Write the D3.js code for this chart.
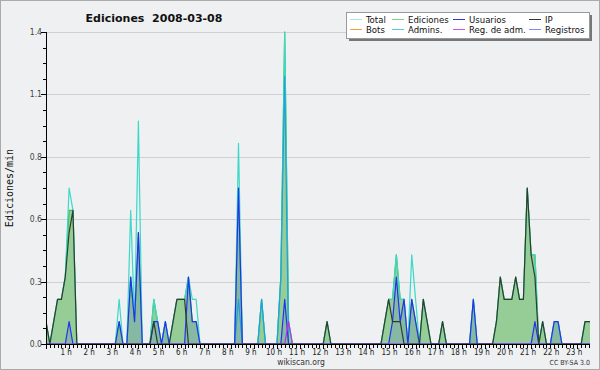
<!DOCTYPE html>
<html>
<head>
<meta charset="utf-8">
<script src="https://cdn.jsdelivr.net/npm/d3@7"></script>
<style>
  body { margin: 0; background: #eef0f2; }
  text { font-family: "DejaVu Sans Condensed", "DejaVu Sans", sans-serif; }
</style>
</head>
<body>
<div id="chart"></div>
<script>
// ediciones por minuto, intervalos de 10 minutos (6 por hora)
const total = [
  .1,0,.1,.2,.2,.3,  .7,.6,0,0,0,0,  0,0,0,0,0,0,  0,.2,0,0,.6,.1,
  1.0,0,0,0,.2,.1,   0,.1,0,.1,.2,.2, .2,.3,.2,.2,0,0, 0,0,0,0,0,0,
  0,0,.9,0,0,0,      0,0,.2,0,0,0,   0,.3,1.4,.1,0,0, 0,0,0,0,0,0,
  0,.1,0,0,0,0,      0,0,0,0,0,0,    0,0,0,0,.1,.2,  .2,.4,.2,.2,0,.4,
  .2,0,.2,.1,0,0,    0,.1,0,0,0,0,   0,0,0,.2,0,0,   0,0,0,.1,.3,.2,
  .2,.2,.3,.2,.2,.7, .4,.4,0,.1,0,0, .1,.1,0,0,0,0,  0,0,.1,.1,.1,.1
];
const ediciones = [
  .1,0,.1,.2,.2,.3,  .6,.6,0,0,0,0,  0,0,0,0,0,0,  0,.1,0,0,.3,.1,
  .5,0,0,0,.2,.1,    0,.1,0,.1,.2,.2, .2,.3,.1,.1,0,0, 0,0,0,0,0,0,
  0,0,.7,0,0,0,      0,0,.2,0,0,0,   0,.3,1.4,.1,0,0, 0,0,0,0,0,0,
  0,.1,0,0,0,0,      0,0,0,0,0,0,    0,0,0,0,.1,.2,  .2,.4,.2,.2,0,.2,
  .1,0,.2,.1,0,0,    0,.1,0,0,0,0,   0,0,0,.2,0,0,   0,0,0,.1,.3,.2,
  .2,.2,.3,.2,.2,.7, .4,.4,0,.1,0,0, .1,.1,0,0,0,0,  0,0,.1,.1,.1,.1
];
const usuarios = [
  0,0,0,0,0,0,       .1,0,0,0,0,0,   0,0,0,0,0,0,    0,.1,0,0,.3,.1,
  .5,0,0,0,.1,.1,    0,.1,0,0,0,0,   0,.3,.1,.1,0,0, 0,0,0,0,0,0,
  0,0,.7,0,0,0,      0,0,0,0,0,0,    0,0,.2,0,0,0,   0,0,0,0,0,0,
  0,0,0,0,0,0,       0,0,0,0,0,0,    0,0,0,0,0,0,    .1,.3,.1,.2,0,.2,
  .1,0,0,0,0,0,      0,0,0,0,0,0,    0,0,0,.2,0,0,   0,0,0,0,0,0,
  0,0,0,0,0,0,       0,.1,0,0,0,0,   .1,.1,0,0,0,0,  0,0,0,0,0,0
];
const ip = [
  .1,0,.1,.2,.2,.3,  .5,.6,0,0,0,0,  0,0,0,0,0,0,    0,0,0,0,0,0,
  0,0,0,0,.1,0,      0,0,0,.1,.2,.2, .2,0,0,0,0,0,   0,0,0,0,0,0,
  0,0,0,0,0,0,       0,0,0,0,0,0,    0,0,0,0,0,0,    0,0,0,0,0,0,
  0,.1,0,0,0,0,      0,0,0,0,0,0,    0,0,0,0,.1,.2,  .1,.1,.1,0,0,0,
  0,0,.2,.1,0,0,     0,.1,0,0,0,0,   0,0,0,0,0,0,    0,0,0,.1,.3,.2,
  .2,.2,.3,.2,.2,.7, .4,.3,0,.1,0,0, 0,0,0,0,0,0,    0,0,.1,.1,.1,.1
];
const admins = [
  0,0,0,0,0,0, 0,0,0,0,0,0, 0,0,0,0,0,0, 0,0,0,0,0,0,
  0,0,0,0,0,0, 0,0,0,0,0,0, 0,0,0,0,0,0, 0,0,0,0,0,0,
  0,0,.2,0,0,0, 0,0,.2,0,0,0, 0,.3,1.2,0,0,0, 0,0,0,0,0,0,
  0,0,0,0,0,0, 0,0,0,0,0,0, 0,0,0,0,0,0, 0,0,0,0,0,0,
  0,0,0,0,0,0, 0,0,0,0,0,0, 0,0,0,0,0,0, 0,0,0,0,0,0,
  0,0,0,0,0,0, 0,0,0,0,0,0, 0,0,0,0,0,0, 0,0,0,0,0,0
];
const regAdm = [
  0,0,0,0,0,0, 0,0,0,0,0,0, 0,0,0,0,0,0, 0,0,0,0,0,0,
  0,0,0,0,0,0, 0,0,0,0,0,0, 0,0,0,0,0,0, 0,0,0,0,0,0,
  0,0,0,0,0,0, 0,0,0,0,0,0, 0,0,0,.1,0,0, 0,0,0,0,0,0,
  0,0,0,0,0,0, 0,0,0,0,0,0, 0,0,0,0,0,0, 0,0,0,0,0,0,
  0,0,0,0,0,0, 0,0,0,0,0,0, 0,0,0,0,0,0, 0,0,0,0,0,0,
  0,0,0,0,0,0, 0,0,0,0,0,0, 0,0,0,0,0,0, 0,0,0,0,0,0
];
const hourLabels = d3.range(1, 24).map(h => h + " h");
const yTicks = [0, 0.28, 0.56, 0.84, 1.12, 1.4];

const legendLabels = ["Total", "Bots", "Ediciones", "Admins.", "Usuarios", "Reg. de adm.", "IP", "Registros"];
const legendColors = ["#a9e4e4", "#f0a040", "#88cc88", "#55c8dc", "#3333dd", "#cc55dd", "#333333", "#8888ee"];

const width = 600, height = 370;
const mLeft = 46, mRight = 590, mTop = 32, mBottom = 344;

const svg = d3.select("#chart").append("svg")
    .attr("width", width)
    .attr("height", height);

svg.append("rect")
    .attr("x", 0.5).attr("y", 0.5)
    .attr("width", width - 1).attr("height", height - 1)
    .attr("fill", "#eef0f2")
    .attr("stroke", "#aaaaaa");

const x = d3.scaleLinear().domain([0, 144]).range([mLeft, mLeft + 144 * 3.85]);
const y = d3.scaleLinear().domain([0, 1.4]).range([mBottom, mTop]);

// rejilla
svg.selectAll(".grid")
    .data(yTicks.slice(1))
    .enter().append("line")
    .attr("x1", mLeft).attr("x2", mRight)
    .attr("y1", d => Math.round(y(d)) + 0.5).attr("y2", d => Math.round(y(d)) + 0.5)
    .attr("stroke", "#d0d0d0");

svg.append("clipPath").attr("id", "plot")
    .append("rect")
    .attr("x", mLeft).attr("y", mTop - 5)
    .attr("width", mRight - mLeft).attr("height", mBottom - mTop + 5);

const g = svg.append("g").attr("clip-path", "url(#plot)");

const idx = d3.range(144);
const area = vals => d3.area()
    .x(i => x(i)).y0(y(0)).y1(i => y(vals[i]))(idx);
const line = vals => d3.line()
    .x(i => x(i)).y(i => y(vals[i]))(idx);

g.append("path").attr("d", area(ediciones)).attr("fill", "#96cd96");
g.append("path").attr("d", area(usuarios)).attr("fill", "#4466dd").attr("opacity", 0.2);

const lines = [
    { vals: ediciones, color: "#44bb44" },
    { vals: total, color: "#3cd8c8" },
    { vals: admins, color: "#22a0d8" },
    { vals: usuarios, color: "#2233ee" },
    { vals: regAdm, color: "#bb33dd" },
    { vals: ip, color: "#2f3d2f" }
];
lines.forEach(s => {
    g.append("path")
        .attr("d", line(s.vals))
        .attr("fill", "none")
        .attr("stroke", s.color)
        .attr("stroke-width", 1.2)
        .attr("stroke-linejoin", "round");
});

// ejes
svg.append("line")
    .attr("x1", mLeft).attr("x2", mRight)
    .attr("y1", mBottom + 0.5).attr("y2", mBottom + 0.5)
    .attr("stroke", "#000");
svg.append("line")
    .attr("x1", mLeft + 0.5).attr("x2", mLeft + 0.5)
    .attr("y1", mTop).attr("y2", mBottom)
    .attr("stroke", "#000");

const xTickIdx = d3.range(0, 144).filter(i => x(i) <= mRight);
svg.selectAll(".xtick")
    .data(xTickIdx)
    .enter().append("line")
    .attr("x1", i => Math.round(x(i)) + 0.5).attr("x2", i => Math.round(x(i)) + 0.5)
    .attr("y1", mBottom).attr("y2", i => mBottom + (i % 6 === 0 ? 5 : 4))
    .attr("stroke", "#000");

svg.selectAll(".xlabel")
    .data(hourLabels)
    .enter().append("text")
    .attr("x", (d, i) => x((i + 1) * 6) - 3)
    .attr("y", mBottom + 11)
    .attr("text-anchor", "middle")
    .style("font-size", "8px")
    .attr("fill", "#222")
    .text(d => d);

const yMinor = d3.range(0, 21).map(k => k * 0.07);
svg.selectAll(".ytick")
    .data(yMinor)
    .enter().append("line")
    .attr("x1", (d, k) => k % 4 === 0 ? mLeft - 5 : mLeft - 3).attr("x2", mLeft)
    .attr("y1", d => Math.round(y(d)) + 0.5).attr("y2", d => Math.round(y(d)) + 0.5)
    .attr("stroke", "#000");

svg.selectAll(".ylabel")
    .data(yTicks)
    .enter().append("text")
    .attr("x", mLeft - 4)
    .attr("y", d => y(d) + 3)
    .attr("text-anchor", "end")
    .style("font-size", "8.5px")
    .attr("fill", "#444")
    .text(d => d3.format(".1f")(d));

svg.append("text")
    .attr("transform", `translate(13, ${(mTop + mBottom) / 2}) rotate(-90)`)
    .attr("text-anchor", "middle")
    .style("font-family", "'DejaVu Sans Mono', monospace")
    .style("font-size", "10px")
    .attr("fill", "#111")
    .text("Ediciones/min");

// titulo
svg.append("text")
    .attr("x", 154).attr("y", 22)
    .attr("text-anchor", "middle")
    .style("font-family", "'DejaVu Sans', sans-serif")
    .style("font-weight", "bold")
    .style("font-size", "11px")
    .style("white-space", "pre")
    .attr("fill", "#111")
    .text("Ediciones  2008-03-08");

// leyenda
svg.append("rect")
    .attr("x", 349).attr("y", 15).attr("width", 243).attr("height", 26)
    .attr("fill", "#777");
svg.append("rect")
    .attr("x", 346.5).attr("y", 12.5).attr("width", 243).attr("height", 26)
    .attr("fill", "#fff").attr("stroke", "#999");

const colX = [350, 392, 453, 529];
legendLabels.forEach((label, i) => {
    const cx = colX[Math.floor(i / 2)];
    const cy = i % 2 === 0 ? 19.5 : 29.5;
    svg.append("line")
        .attr("x1", cx).attr("x2", cx + 12)
        .attr("y1", cy).attr("y2", cy)
        .attr("stroke", legendColors[i]);
    svg.append("text")
        .attr("x", cx + 16).attr("y", cy + 3.5)
        .style("font-size", "9.5px")
        .attr("fill", "#111")
        .text(label);
});

svg.append("text")
    .attr("x", 301).attr("y", 365)
    .attr("text-anchor", "middle")
    .style("font-size", "8.5px")
    .attr("fill", "#333")
    .text("wikiscan.org");

svg.append("text")
    .attr("x", 590).attr("y", 365)
    .attr("text-anchor", "end")
    .style("font-size", "7px")
    .attr("fill", "#333")
    .text("CC BY-SA 3.0");
</script>
</body>
</html>
